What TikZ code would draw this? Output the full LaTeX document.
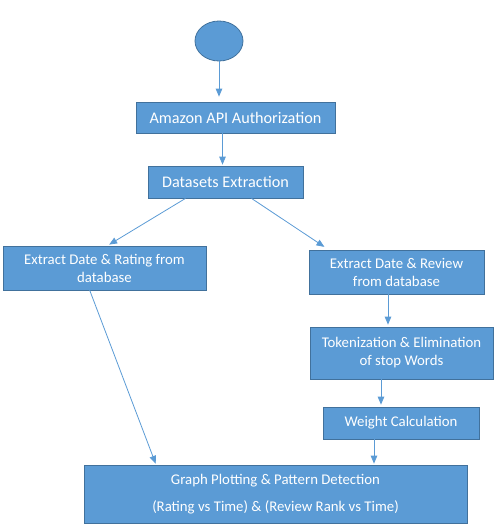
\documentclass[tikz,border=0pt]{standalone}
\usepackage{fontspec}
\setmainfont{Carlito}
\usepackage{xcolor}
\usetikzlibrary{arrows, positioning, calc, shapes.geometric}
\definecolor{boxfill}{HTML}{5B9BD5}
\definecolor{boxline}{HTML}{41719C}

\begin{document}
\begin{tikzpicture}[x=1pt,y=-1pt,>=triangle 45,shorten >=1pt,
			line width=0.8pt,
			step box/.style={rectangle,draw=boxline,fill=boxfill,text=white,align=center,
				inner sep=0pt,font=\fontsize{14.8}{18}\selectfont},
			big text/.style={font=\fontsize{16.2}{19}\selectfont},
			flow/.style={->,draw=boxfill}]
			
			\useasboundingbox (0,0) rectangle (499,531);
			
			\node[ellipse,draw=boxline,fill=boxfill,minimum width=48pt,minimum height=40pt,inner sep=0pt] (start) at (219,41) {};
			\node[step box,big text,minimum width=199pt,minimum height=31pt] (auth) at (235.5,117.5) {Amazon API Authorization};
			\node[step box,big text,minimum width=155pt,minimum height=32pt] (data) at (225.5,182) {Datasets Extraction};
			\node[step box,minimum width=203pt,minimum height=44pt] (rating) at (104.5,268) {Extract Date \& Rating from\\database};
			\node[step box,minimum width=175pt,minimum height=44pt] (review) at (396.5,272) {Extract Date \& Review\\from database};
			\node[step box,minimum width=183pt,minimum height=52pt] (token) at (401.5,353) {Tokenization \& Elimination\\of stop Words};
			\node[step box,minimum width=156pt,minimum height=32pt] (weight) at (401,423) {Weight Calculation};
			\node[step box,minimum width=383pt,minimum height=58pt] (graph) at (275.5,494) {Graph Plotting \& Pattern Detection\\[9pt](Rating vs Time) \& (Review Rank vs Time)};
			
			\draw[flow,shorten >=5pt] (start.south) -- (start.south |- auth.north);
			\draw[flow] ([xshift=-13pt]auth.south) -- ([xshift=-13pt]auth.south |- data.north);
			\draw[flow,shorten >=2pt] ([xshift=-40pt]data.south) -- ([xshift=3pt]rating.north);
			\draw[flow,shorten >=5pt] ([xshift=26pt]data.south) -- ([xshift=-68pt]review.north);
			\draw[flow,shorten >=2pt] ([xshift=-8.5pt]review.south) -- ([xshift=-8.5pt]review.south |- token.north);
			\draw[flow,shorten >=2pt] ([xshift=-20.5pt]token.south) -- ([xshift=-20.5pt]token.south |- weight.north);
			\draw[flow] ([xshift=-27pt]weight.south) -- ([xshift=-27pt]weight.south |- graph.north);
			\draw[flow] ([xshift=-15.5pt,yshift=2pt]rating.south) -- ([xshift=-119.5pt]graph.north);
		
		\end{tikzpicture}
\end{document}
